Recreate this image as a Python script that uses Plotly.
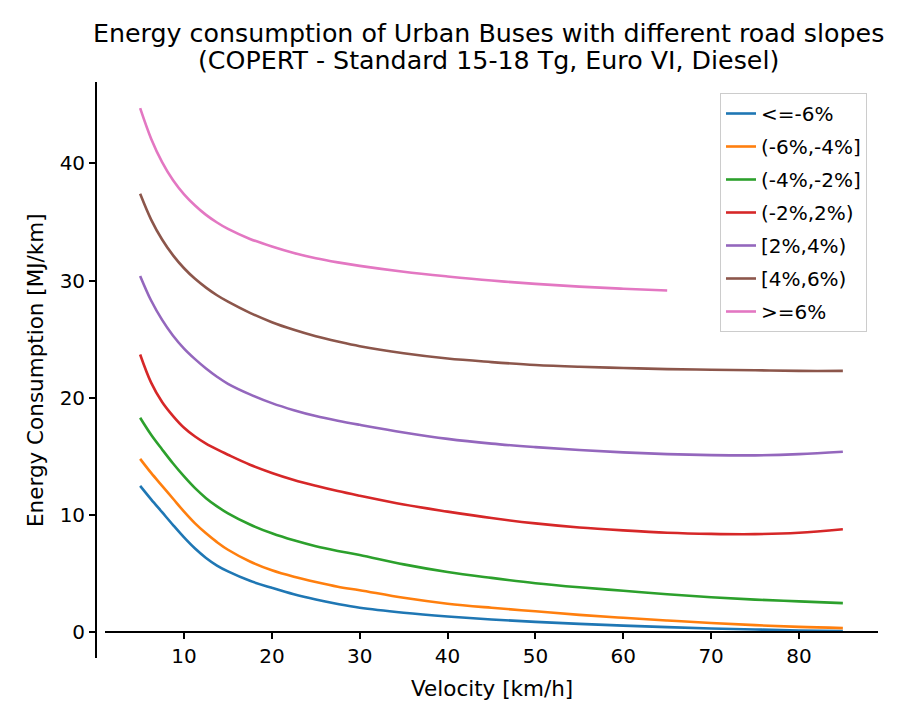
import plotly.graph_objects as go

velocity = [5, 6.25, 7.5, 8.75, 10, 11.25, 12.5, 13.75, 15, 17.5, 20, 22.5, 25, 27.5, 30,
            35, 40, 45, 50, 55, 60, 65, 70, 75, 80, 85]

series_names = ["<=-6%", "(-6%,-4%]", "(-4%,-2%]", "(-2%,2%)", "[2%,4%)", "[4%,6%)", ">=6%"]

slope_m6 = [12.5, 11.35, 10.25, 9.15, 8.1, 7.15, 6.35, 5.7, 5.2, 4.4, 3.8, 3.25, 2.8, 2.42, 2.1,
            1.68, 1.36, 1.1, 0.9, 0.73, 0.58, 0.45, 0.34, 0.25, 0.17, 0.11]
slope_m6_m4 = [14.8, 13.6, 12.5, 11.4, 10.3, 9.3, 8.45, 7.7, 7.05, 6.05, 5.3, 4.75, 4.3, 3.9, 3.6,
               2.95, 2.45, 2.1, 1.8, 1.5, 1.25, 1.02, 0.8, 0.62, 0.47, 0.37]
slope_m4_m2 = [18.3, 16.85, 15.6, 14.4, 13.3, 12.3, 11.45, 10.75, 10.15, 9.2, 8.45, 7.85, 7.35, 6.95, 6.6,
               5.8, 5.15, 4.65, 4.2, 3.85, 3.55, 3.25, 3.0, 2.8, 2.65, 2.5]
slope_m2_2 = [23.7, 21.3, 19.65, 18.45, 17.45, 16.7, 16.1, 15.6, 15.15, 14.3, 13.6, 13.0, 12.5, 12.05, 11.65,
              10.9, 10.3, 9.75, 9.3, 8.95, 8.7, 8.5, 8.4, 8.38, 8.5, 8.8]
slope_2_4 = [30.4, 28.3, 26.65, 25.3, 24.2, 23.3, 22.5, 21.8, 21.2, 20.3, 19.55, 18.95, 18.45, 18.05, 17.7,
             17.05, 16.5, 16.1, 15.8, 15.55, 15.35, 15.2, 15.12, 15.1, 15.2, 15.4]
slope_4_6 = [37.4, 35.2, 33.5, 32.15, 31.05, 30.15, 29.4, 28.75, 28.2, 27.25, 26.45, 25.8, 25.25, 24.8, 24.4,
             23.8, 23.35, 23.05, 22.8, 22.65, 22.55, 22.45, 22.4, 22.35, 22.3, 22.3]
velocity_p6 = [5, 6.25, 7.5, 8.75, 10, 11.25, 12.5, 13.75, 15, 17.5, 20, 22.5, 25, 27.5, 30,
               35, 40, 45, 50, 55, 60, 65]
slope_p6 = [44.7, 42.1, 40.1, 38.55, 37.35, 36.4, 35.6, 34.95, 34.4, 33.55, 32.9, 32.35, 31.9, 31.55, 31.25,
            30.75, 30.35, 30.0, 29.72, 29.48, 29.3, 29.15]

x_ticks = [10, 20, 30, 40, 50, 60, 70, 80]
y_ticks = [0, 10, 20, 30, 40]

title_line1 = "Energy consumption of Urban Buses with different road slopes"
title_line2 = "(COPERT - Standard 15-18 Tg, Euro VI, Diesel)"
x_label = "Velocity [km/h]"
y_label = "Energy Consumption [MJ/km]"

colors = ["#1f77b4", "#ff7f0e", "#2ca02c", "#d62728", "#9467bd", "#8c564b", "#e377c2"]

all_series = [
    (velocity, slope_m6),
    (velocity, slope_m6_m4),
    (velocity, slope_m4_m2),
    (velocity, slope_m2_2),
    (velocity, slope_2_4),
    (velocity, slope_4_6),
    (velocity_p6, slope_p6),
]

OFF = 8  # page body margin
W, H = 903 - 2 * OFF, 708 - 2 * OFF
FONT = "DejaVu Sans"


def fx(p):
    return (p - OFF) / W


def fy(p):
    return 1 - (p - OFF) / H


fig = go.Figure()
for i, ((xs, ys), name) in enumerate(zip(all_series, series_names)):
    fig.add_trace(go.Scatter(
        x=xs, y=ys, mode="lines", name=name,
        line=dict(color=colors[i], width=2.6, shape="spline", smoothing=1.0),
        legendgroup=f"g{i}",
    ))

ax_left, ax_right = 105, 878
ax_top, ax_bottom = 82, 658
cx = (ax_left + ax_right) / 2

fig.update_layout(
    width=W, height=H,
    margin=dict(l=0, r=0, t=0, b=0),
    paper_bgcolor="white", plot_bgcolor="white",
    font=dict(family=FONT, size=20, color="black"),
    showlegend=True,
    legend=dict(
        x=fx(867), xanchor="right", y=fy(93), yanchor="top",
        bordercolor="#cccccc", borderwidth=1, bgcolor="rgba(255,255,255,0.8)",
        font=dict(family=FONT, size=20, color="black"),
        tracegroupgap=4,
    ),
    xaxis=dict(
        domain=[fx(ax_left), fx(ax_right)],
        range=[1, 89],
        anchor="free", position=fy(632),
        showline=True, linecolor="black", linewidth=1.8,
        ticks="outside", ticklen=6, tickwidth=1.5, tickcolor="black",
        tickvals=x_ticks, showgrid=False, zeroline=False,
        tickfont=dict(family=FONT, size=20, color="black"),
    ),
    yaxis=dict(
        domain=[fy(ax_bottom), fy(ax_top)],
        range=[-2.18, 46.93],
        anchor="free", position=fx(96),
        showline=True, linecolor="black", linewidth=1.8,
        ticks="outside", ticklen=6, tickwidth=1.5, tickcolor="black",
        tickvals=y_ticks, showgrid=False, zeroline=False,
        tickfont=dict(family=FONT, size=20, color="black"),
    ),
    annotations=[
        dict(text=title_line1, x=fx(489), y=fy(33),
             xref="paper", yref="paper", xanchor="center", yanchor="middle",
             showarrow=False, font=dict(family=FONT, size=25.3, color="black")),
        dict(text=title_line2, x=fx(489), y=fy(61),
             xref="paper", yref="paper", xanchor="center", yanchor="middle",
             showarrow=False, font=dict(family=FONT, size=25.3, color="black")),
        dict(text=x_label, x=fx(cx), y=fy(688),
             xref="paper", yref="paper", xanchor="center", yanchor="middle",
             showarrow=False, font=dict(family=FONT, size=21.5, color="black")),
        dict(text=y_label, x=fx(35), y=fy(370),
             xref="paper", yref="paper", xanchor="center", yanchor="middle",
             textangle=-90, showarrow=False, font=dict(family=FONT, size=21.5, color="black")),
    ],
)

fig.write_html("out.html")
